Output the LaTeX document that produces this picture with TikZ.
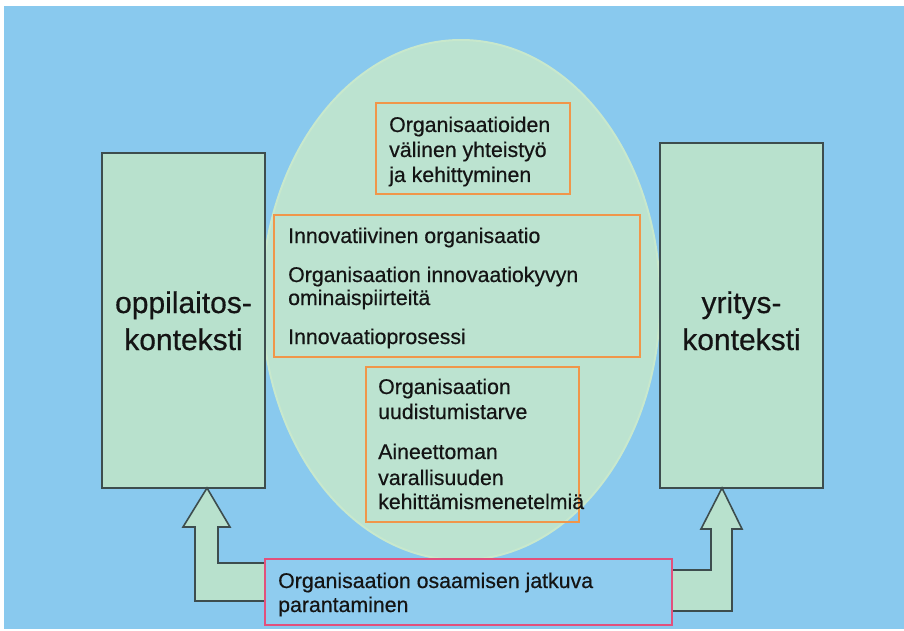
\documentclass[tikz,border=0pt]{standalone}
\usepackage{fontspec}
\setmainfont{Liberation Sans}
\newfontfamily\labelfont{Liberation Sans}[FakeBold=0.5]
\begin{document}
\begin{tikzpicture}[x=1pt,y=-1pt,
  ctxbox/.style={draw=boxline, line width=2pt, fill=boxgreen},
  topicbox/.style={draw=orangeline, line width=2pt},
  body/.style={anchor=base west, inner sep=0pt, font=\labelfont\fontsize{21.3}{25}\selectfont, text=black!92},
  big/.style={anchor=base, inner sep=0pt, font=\labelfont\fontsize{30}{36}\selectfont, text=black!92},
  fatarrow/.style={draw=boxline, line width=1.6pt, fill=boxgreen, line join=miter}]
\definecolor{skyblue}{HTML}{89C9EE}
\definecolor{boxgreen}{HTML}{B8E1CD}
\definecolor{ovalgreen}{HTML}{BCE3D0}
\definecolor{ovalrim}{HTML}{C8E8CC}
\definecolor{boxline}{HTML}{3D4D4E}
\definecolor{orangeline}{HTML}{F0964A}
\definecolor{pinkline}{HTML}{E2507C}
\definecolor{pinkfill}{HTML}{8FCCEF}

\useasboundingbox (0,0) rectangle (904,631);
\fill[white] (0,0) rectangle (904,631);
% sky blue backdrop
\fill[skyblue] (4,6) rectangle (904,629);

% central oval
\draw[fill=ovalgreen, draw=ovalrim, line width=2pt] (461,300) ellipse [x radius=199, y radius=260];

% topic boxes inside the oval
\draw[topicbox] (376,103) rectangle (570,194);
\node[body] (t1) at (389,132) {Organisaatioiden};
\node[body] (t2) at (389,157) {välinen yhteistyö};
\node[body] (t3) at (389,182) {ja kehittyminen};

\draw[topicbox] (274,215) rectangle (640,357);
\node[body] (m1) at (288,243) {Innovatiivinen organisaatio};
\node[body] (m2) at (288,282) {Organisaation innovaatiokyvyn};
\node[body] (m3) at (288,305) {ominaispiirteitä};
\node[body] (m4) at (288,344) {Innovaatioprosessi};

\draw[topicbox] (366,367) rectangle (579,522);
\node[body] (l1) at (378,394) {Organisaation};
\node[body] (l2) at (378,419) {uudistumistarve};
\node[body] (l3) at (378,459) {Aineettoman};
\node[body] (l4) at (378,485) {varallisuuden};
\node[body] (l5) at (378,509) {kehittämismenetelmiä};

% the two context boxes
\draw[ctxbox] (102,153) rectangle (265,488);
\node[big] (ctxL1) at (183.5,313) {oppilaitos-};
\node[big] (ctxL2) at (183.5,350) {konteksti};

\draw[ctxbox] (660,143) rectangle (823,488);
\node[big] (ctxR1) at (741.5,313) {yritys-};
\node[big] (ctxR2) at (741.5,350) {konteksti};

% bent block arrows feeding both contexts
\coordinate (tipL) at (207,488);
\coordinate (tipR) at (722,488);
\draw[fatarrow] (tipL) -- (230,527) -- (218,527) -- (218,563) -- (268,563)
  -- (268,601) -- (195,601) -- (195,527) -- (183,527) -- cycle;
\draw[fatarrow] (tipR) -- (742,529) -- (732,529) -- (732,611) -- (669,611)
  -- (669,570) -- (711,570) -- (711,529) -- (701,529) -- cycle;

% continuous improvement box
\draw[draw=pinkline, line width=2pt, fill=pinkfill] (265,559) rectangle (672,625);
\node[body] (p1) at (278,588) {Organisaation osaamisen jatkuva};
\node[body] (p2) at (278,612) {parantaminen};
\end{tikzpicture}
\end{document}
